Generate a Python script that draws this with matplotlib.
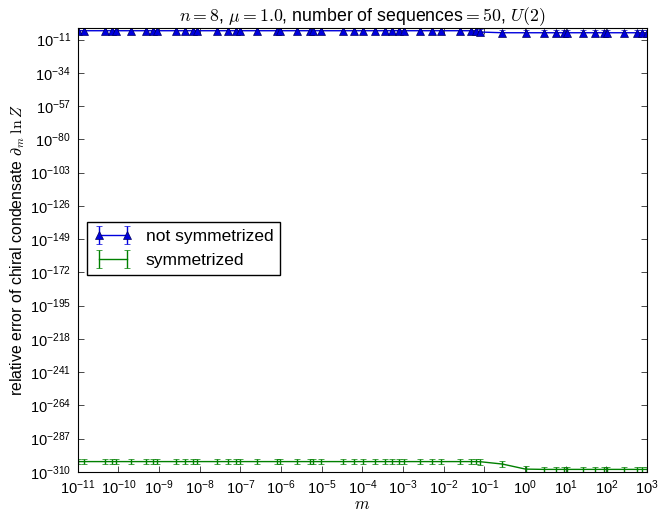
import numpy as np
import matplotlib
matplotlib.use('Agg')
from matplotlib import pyplot as plt

plt.rcParams.update({'font.family': ['Liberation Sans', 'DejaVu Sans'],
                     'mathtext.fontset': 'cm',
                     'axes.unicode_minus': False,
                     'xtick.direction': 'in', 'ytick.direction': 'in',
                     'xtick.top': True, 'ytick.right': True,
                     'xtick.major.size': 4, 'ytick.major.size': 4,
                     'xtick.major.width': 0.5, 'ytick.major.width': 0.5,
                     'xtick.major.pad': 5, 'ytick.major.pad': 5})

# position of each point in decades above 1e-11
m_dec = [0.0, 0.15, 0.67, 0.85, 0.95, 1.32, 1.69, 1.85, 1.95, 2.41, 2.64,
         2.84, 2.92, 3.42, 3.70, 3.88, 3.99, 4.40, 4.89, 4.97, 5.39, 5.71,
         5.79, 5.98, 6.53, 6.78, 7.02, 7.32, 7.56, 7.73, 7.91, 8.01, 8.41,
         8.71, 8.92, 9.41, 9.66, 9.78,
         9.90, 10.44, 11.01, 11.46, 11.75, 11.95, 12.04, 12.42, 12.73,
         12.94, 13.02, 13.43, 13.76, 13.88, 14.0]

# log10 of relative error
not_sym_log = [-4.9] * 38 + [-5.8, -6.3, -6.3, -6.3, -6.3, -6.3, -6.3,
                             -6.3, -6.3, -6.3, -6.3, -6.3, -6.3, -6.3, -6.3]
sym_log = [-302.9] * 38 + [-303.0, -304.6, -308.1, -308.3, -308.3, -308.3,
                           -308.3, -308.3, -308.3, -308.3, -308.3, -308.3,
                           -308.3, -308.3, -308.3]
err_dec = 2.0  # half height of the error bars in decades

yticks = [-310, -287, -264, -241, -218, -195, -172, -149, -126, -103, -80,
          -57, -34, -11]
xticks = list(range(-11, 4))

m = 10.0 ** (-11 + np.array(m_dec))

fig = plt.figure(figsize=(6.59, 5.14), dpi=100)
ax = fig.add_axes([0.118, 0.082, 0.864, 0.863])

for ylog, color, marker, label in [(not_sym_log, '#0000dd', '^', 'not symmetrized'),
                                   (sym_log, 'g', None, 'symmetrized')]:
    ylog = np.array(ylog)
    y = 10.0 ** ylog
    lo = y - 10.0 ** (ylog - err_dec)
    hi = 10.0 ** (ylog + err_dec) - y
    ax.errorbar(m, y, yerr=[lo, hi], color=color, marker=marker, ms=6,
                mec='#000060', mew=0.5, capsize=2, lw=1, label=label)

ax.set_xscale('log')
ax.set_yscale('log')
ax.set_xticks([10.0 ** k for k in xticks])
ax.set_yticks([10.0 ** k for k in yticks])
ax.set_xlim(1e-11, 1e3)
ax.set_ylim(10.0 ** -310, 10.0 ** -3.2)
ax.tick_params(labelsize=10.5)

ax.set_title(r'$n=8$, $\mu=1.0$, number of sequences$=50$, $U(2)$',
             fontsize=12.8, pad=4)
ax.set_xlabel(r'$m$', fontsize=12, labelpad=0)
ax.set_ylabel(r'relative error of chiral condensate $\partial_m\;\ln Z$',
              fontsize=11.4, labelpad=2)

ax.legend(loc='upper left', bbox_to_anchor=(0.016, 0.563), borderaxespad=0,
          numpoints=2, fancybox=False, framealpha=1, edgecolor='black',
          fontsize=12.5, handlelength=2.2)

fig.savefig('out.png', dpi=100, facecolor='white')
